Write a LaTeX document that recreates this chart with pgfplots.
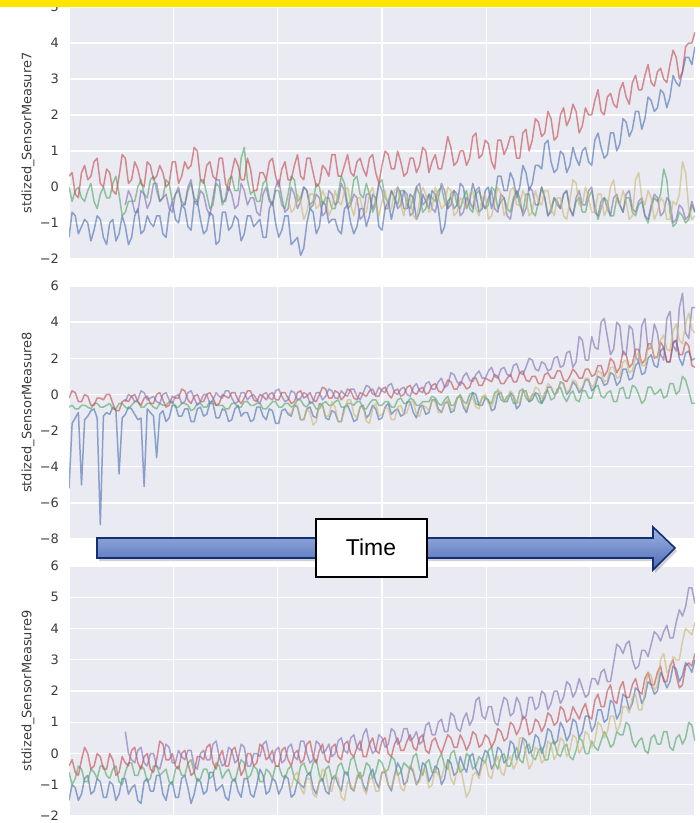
\documentclass[border=0pt]{standalone}
\usepackage{pgfplots}
\pgfplotsset{compat=1.18}
\usepackage{pgfplotstable}
\usepackage{fontspec}
\setmainfont{DejaVu Sans}
\newfontfamily\arial{Liberation Sans}
\definecolor{sbbg}{HTML}{EAEAF2}
\definecolor{sbblue}{HTML}{4C72B0}
\definecolor{sbgreen}{HTML}{55A868}
\definecolor{sbred}{HTML}{C44E52}
\definecolor{sbpurple}{HTML}{8172B2}
\definecolor{sbyellow}{HTML}{CCB974}
\definecolor{ticktxt}{HTML}{3C3C3C}
\definecolor{topbar}{HTML}{FFE600}
\definecolor{arrtop}{RGB}{160,180,228}
\definecolor{arrbot}{RGB}{78,108,180}
\definecolor{arrline}{RGB}{18,48,118}

\pgfplotstableread{
x b g r p y
0 -1.4 0.0 0.3 nan nan
1.5 -0.7 -0.4 0.4 nan nan
3 -0.8 -0.1 -0.2 nan nan
4.5 -1.3 0.0 -0.3 nan nan
6 -1.1 -0.3 0.4 nan nan
7.5 -0.9 -0.4 0.6 nan nan
9 -1.0 -0.1 0.2 nan nan
10.5 -1.5 0.1 0.3 nan nan
12 -1.2 -0.4 0.7 nan nan
13.5 -0.8 -0.6 0.8 nan nan
15 -0.9 -0.2 0.1 nan nan
16.5 -1.4 0.0 0.0 nan nan
18 -1.6 -0.3 0.5 nan nan
19.5 -1.0 -0.3 0.4 nan nan
21 -0.9 0.1 -0.1 nan nan
22.5 -1.5 0.3 -0.2 nan nan
24 -1.3 -0.2 0.3 nan nan
25.5 -0.8 -0.8 0.9 nan nan
27 -1.1 -0.7 0.8 -0.5 nan
28.5 -1.6 -0.4 0.1 -0.1 nan
30 -1.4 -0.4 0.2 -0.3 nan
31.5 -0.8 -0.4 0.7 -0.7 nan
33 -0.6 0.0 0.5 -0.7 nan
34.5 -1.3 0.2 0.1 -0.1 nan
36 -1.2 -0.2 0.0 -0.2 nan
37.5 -0.8 -0.3 0.7 -0.6 nan
39 -1.0 0.2 0.6 -0.4 nan
40.5 -1.1 0.3 0.2 0.1 nan
42 -0.8 -0.1 0.3 0.1 nan
43.5 -0.8 -0.4 0.6 -0.4 nan
45 -1.3 -0.3 0.4 -0.3 nan
46.5 -1.4 0.2 0.0 -0.2 nan
48 -0.7 0.1 0.1 -0.6 nan
49.5 -0.4 -0.4 0.7 -0.7 nan
51 -0.9 -0.2 0.7 -0.2 nan
52.5 -1.0 -0.1 0.1 0.0 nan
54 -0.5 -0.4 0.3 -0.5 nan
55.5 -0.6 -0.5 0.7 -0.5 nan
57 -1.1 -0.1 0.5 0.0 nan
58.5 -1.2 0.1 0.6 0.2 nan
60 -0.4 -0.3 1.1 -0.4 nan
61.5 -0.4 -0.4 1.0 -0.5 nan
63 -0.9 0.2 0.2 -0.1 nan
64.5 -1.3 0.2 0.1 -0.2 nan
66 -1.2 -0.2 0.6 -0.6 nan
67.5 -0.7 -0.6 0.7 -0.8 nan
69 -0.8 -0.5 0.3 -0.3 nan
70.5 -1.6 0.1 0.2 0.2 nan
72 -1.5 0.0 0.8 0.2 nan
73.5 -0.7 -0.5 0.8 -0.4 nan
75 -0.7 -0.3 0.1 -0.4 nan
76.5 -1.2 0.2 -0.1 0.0 nan
78 -1.1 0.3 0.4 -0.2 nan
79.5 -0.8 -0.1 0.8 -0.6 nan
81 -0.9 -0.1 0.6 -0.5 nan
82.5 -1.5 0.8 0.2 0.1 nan
84 -1.3 1.1 0.2 -0.1 nan
85.5 -0.8 0.2 0.8 -0.5 nan
87 -0.8 -0.2 0.5 -0.3 nan
88.5 -1.1 -0.1 -0.1 -0.3 nan
90 -1.0 -0.4 -0.1 -0.7 nan
91.5 -0.9 -0.4 0.4 -0.8 nan
93 -1.4 0.1 0.4 -0.2 nan
94.5 -1.4 0.2 0.2 0.0 nan
96 -0.6 -0.3 0.7 -0.4 nan
97.5 -0.4 -0.5 0.8 -0.5 nan
99 -1.0 -0.1 0.3 0.0 nan
100.5 -1.4 -0.1 0.0 0.2 nan
102 -1.2 -0.5 0.5 -0.3 nan
103.5 -0.8 -0.6 0.7 -0.7 nan
105 -0.8 -0.2 0.2 -0.6 -0.3
106.5 -1.6 0.3 0.2 0.0 -0.7
108 -1.5 0.2 0.6 -0.2 -0.6
109.5 -1.4 -0.4 0.9 -0.6 -0.2
111 -1.9 -0.3 0.3 -0.4 -0.4
112.5 -1.7 0.0 0.2 0.0 -0.9
114 -1.0 -0.1 0.8 -0.1 -0.7
115.5 -0.6 -0.5 0.8 -0.6 -0.2
117 -0.7 -0.4 0.4 -0.5 -0.2
118.5 -1.3 0.1 0.0 -0.2 -0.6
120 -1.1 0.0 0.1 -0.3 -0.5
121.5 -0.4 -0.5 0.6 -0.8 -0.1
123 -0.5 -0.3 0.5 -0.7 -0.3
124.5 -1.0 -0.3 0.3 -0.1 -0.8
126 -0.9 -0.6 0.9 -0.2 -0.6
127.5 -0.9 -0.6 0.9 -0.5 -0.1
129 -1.2 -0.2 0.3 -0.4 -0.4
130.5 -1.3 0.3 0.3 0.1 -0.5
132 -0.6 0.1 0.6 -0.1 -0.1
133.5 -0.5 -0.5 0.9 -0.6 0.0
135 -1.0 -0.4 0.4 -0.5 -0.5
136.5 -1.3 0.2 0.3 -0.2 -0.8
138 -1.1 0.3 0.7 -0.3 -0.3
139.5 -0.6 -0.2 0.8 -0.9 -0.3
141 -0.6 -0.3 0.5 -0.8 -0.7
142.5 -1.1 0.1 0.3 -0.2 -0.7
144 -0.8 -0.2 0.8 -0.2 -0.2
145.5 -0.2 -0.7 0.9 -0.6 0.0
147 -0.3 -0.5 0.4 -0.4 -0.5
148.5 -1.1 0.1 0.1 0.1 -0.8
150 -1.2 0.2 0.6 -0.1 -0.4
151.5 -0.6 -0.3 1.0 -0.6 -0.1
153 -0.4 -0.4 0.9 -0.6 -0.6
154.5 -0.9 -0.1 0.5 -0.1 -0.6
156 -0.5 -0.3 0.5 -0.3 -0.1
157.5 0.0 -0.5 1.0 -0.6 0.0
159 -0.2 -0.1 0.7 -0.5 -0.5
160.5 -0.6 -0.1 0.3 -0.1 -0.8
162 -0.6 -0.5 0.4 -0.2 -0.3
163.5 -0.2 -0.6 0.8 -0.8 -0.3
165 -0.3 -0.3 0.8 -0.7 -0.8
166.5 -0.9 0.0 0.4 0.0 -0.9
168 -0.7 -0.2 0.6 0.1 -0.4
169.5 -0.2 -0.7 1.1 -0.5 0.0
171 -0.4 -0.6 1.0 -0.4 -0.2
172.5 -0.6 -0.2 0.4 -0.2 -0.7
174 -0.1 -0.3 0.7 -0.6 -0.6
175.5 -0.2 -0.4 0.9 -0.7 0.0
177 -0.6 -0.1 0.5 -0.3 -0.3
178.5 -1.3 0.0 0.5 0.1 -0.6
180 -1.1 -0.4 0.9 -0.1 -0.5
181.5 -0.4 -0.6 1.4 -0.6 0.0
183 -0.3 -0.2 1.1 -0.5 -0.1
184.5 -0.6 -0.1 0.6 -0.1 -0.8
186 -0.5 -0.5 0.7 -0.2 -0.7
187.5 0.1 -0.6 1.0 -0.8 -0.3
189 0.0 -0.3 1.0 -0.7 -0.4
190.5 -0.6 -0.1 0.6 -0.3 -0.6
192 -0.4 -0.6 0.8 -0.4 -0.2
193.5 0.1 -0.7 1.4 -0.6 -0.1
195 -0.2 -0.2 1.5 -0.1 -0.6
196.5 -0.7 -0.1 0.8 0.0 -0.8
198 -0.6 -0.4 0.9 -0.5 -0.3
199.5 -0.1 -0.6 1.3 -0.6 -0.2
201 0.0 -0.5 1.2 -0.3 -0.9
202.5 -0.6 0.0 0.7 -0.1 -0.8
204 -0.3 -0.1 0.5 -0.6 -0.4
205.5 0.3 -0.6 1.3 -0.7 0.0
207 0.3 -0.4 1.3 -0.2 -0.2
208.5 -0.1 -0.3 0.9 -0.3 -0.8
210 -0.1 -0.6 1.1 -0.8 -0.6
211.5 0.4 -0.7 1.4 -0.9 -0.1
213 0.2 -0.3 1.4 -0.4 0.0
214.5 -0.3 -0.1 0.8 -0.1 -0.5
216 0.0 -0.5 0.8 -0.3 -0.5
217.5 0.6 -0.7 1.5 -0.8 -0.1
219 0.4 -0.2 1.6 -0.6 -0.3
220.5 -0.1 -0.2 1.0 0.0 -0.8
222 0.1 -0.7 1.3 -0.1 -0.7
223.5 0.6 -0.8 1.9 -0.5 -0.1
225 0.6 -0.4 1.8 -0.5 -0.4
226.5 0.5 0.0 1.4 0.0 -0.5
228 1.2 -0.3 1.5 -0.3 -0.1
229.5 1.3 -0.8 2.1 -0.8 -0.1
231 0.7 -0.6 1.9 -0.7 -0.6
232.5 0.4 -0.3 1.3 -0.3 -0.8
234 0.5 -0.5 1.4 -0.4 -0.3
235.5 1.0 -0.6 2.0 -0.6 -0.3
237 0.9 -0.2 2.2 -0.2 -0.8
238.5 0.4 -0.1 1.7 -0.1 -0.9
240 0.6 -0.6 1.9 -0.6 -0.4
241.5 1.1 -0.8 2.3 -0.8 0.2
243 0.8 -0.4 2.1 -0.3 0.1
244.5 0.6 -0.3 1.5 -0.1 -0.5
246 1.0 -0.7 1.7 -0.5 -0.5
247.5 1.1 -0.7 2.2 -0.5 0.0
249 0.7 -0.3 2.0 -0.1 -0.3
250.5 0.6 -0.1 2.0 0.0 -0.7
252 1.3 -0.5 2.4 -0.7 -0.7
253.5 1.5 -0.9 2.7 -0.8 -0.2
255 1.1 -0.6 2.1 -0.4 -0.2
256.5 0.8 -0.3 2.0 -0.3 -0.8
258 0.9 -0.4 2.5 -0.6 -0.6
259.5 1.5 -0.8 2.6 -0.8 0.0
261 1.5 -0.8 2.3 -0.3 0.2
262.5 1.0 -0.3 2.2 -0.2 -0.4
264 1.2 -0.5 2.7 -0.5 -0.5
265.5 1.9 -0.7 2.9 -0.7 -0.1
267 1.8 -0.3 2.5 -0.2 -0.4
268.5 1.4 -0.3 2.3 -0.1 -0.9
270 1.6 -0.7 2.9 -0.6 -0.8
271.5 2.1 -0.8 3.1 -0.7 0.2
273 2.1 -0.5 2.7 -0.4 0.4
274.5 1.6 -0.4 2.7 -0.3 -0.3
276 1.9 -0.8 3.1 -0.8 -0.5
277.5 2.5 -1.0 3.4 -0.9 -0.1
279 2.4 -0.6 2.9 -0.5 -0.3
280.5 2.1 -0.3 2.8 -0.2 -0.9
282 2.2 -0.4 3.2 -0.3 -0.7
283.5 2.7 -0.2 3.3 -0.8 -0.3
285 2.6 0.5 3.0 -0.7 -0.4
286.5 2.2 0.2 2.9 -0.3 -0.9
288 2.5 -0.7 3.4 -0.4 -0.9
289.5 3.1 -1.1 3.8 -1.0 -0.4
291 2.9 -1.0 3.6 -0.9 -0.5
292.5 2.8 -0.7 3.0 -0.5 -0.2
294 3.2 -0.8 3.2 -0.6 0.7
295.5 3.6 -1.0 3.9 -0.9 0.4
297 3.6 -0.9 4.0 -0.8 -0.6
298.5 3.4 -0.5 4.0 -0.4 -0.9
300 3.9 -0.7 4.3 -0.7 -0.8
}\tabA

\pgfplotstableread{
x b g r p y
0 -5.2 -0.7 -0.2 nan nan
1.5 -1.6 -0.6 0.2 nan nan
3 -1.3 -0.8 0.1 nan nan
4.5 -1.0 -0.8 -0.4 nan nan
6 -5.0 -0.6 -0.4 nan nan
7.5 -1.4 -0.6 0.0 nan nan
9 -1.2 -0.7 -0.1 nan nan
10.5 -0.9 -0.8 -0.6 nan nan
12 -0.8 -0.5 -0.6 nan nan
13.5 -1.3 -0.5 -0.2 nan nan
15 -7.2 -0.7 -0.2 nan nan
16.5 -1.2 -0.7 -0.3 nan nan
18 -1.0 -0.6 0.0 nan nan
19.5 -1.1 -0.5 0.0 nan nan
21 -0.7 -0.8 -0.5 nan nan
22.5 -0.9 -0.8 -0.9 nan nan
24 -4.4 -0.5 -0.9 nan nan
25.5 -1.3 -0.5 -0.4 nan nan
27 -1.1 -0.7 -0.3 -0.4 nan
28.5 -0.7 -0.8 -0.4 0.0 nan
30 -0.8 -0.6 -0.1 -0.1 nan
31.5 -1.1 -0.4 0.0 -0.4 nan
33 -1.4 -0.4 -0.4 -0.3 nan
34.5 -1.3 -0.7 -0.6 0.2 nan
36 -5.1 -0.7 -0.2 0.1 nan
37.5 -0.8 -0.5 -0.1 -0.3 nan
39 -1.0 -0.5 -0.5 -0.2 nan
40.5 -1.2 -0.7 -0.5 -0.1 nan
42 -3.5 -0.8 0.0 -0.4 nan
43.5 -1.1 -0.5 0.1 -0.5 nan
45 -0.9 -0.6 -0.3 0.0 nan
46.5 -1.5 -0.6 -0.7 0.1 nan
48 -1.3 -0.4 -0.6 -0.3 nan
49.5 -0.6 -0.4 -0.1 -0.5 nan
51 -0.6 -0.7 -0.2 -0.1 nan
52.5 -1.2 -0.7 -0.2 0.0 nan
54 -1.2 -0.5 0.3 -0.5 nan
55.5 -0.8 -0.5 0.2 -0.4 nan
57 -0.8 -0.6 -0.3 0.1 nan
58.5 -1.5 -0.9 -0.5 0.2 nan
60 -1.5 -0.8 -0.1 -0.2 nan
61.5 -0.8 -0.5 0.0 -0.6 nan
63 -0.7 -0.5 -0.4 -0.4 nan
64.5 -1.2 -0.7 -0.4 0.0 nan
66 -1.1 -0.7 0.0 0.0 nan
67.5 -0.5 -0.4 0.1 -0.5 nan
69 -0.5 -0.4 -0.2 -0.3 nan
70.5 -1.3 -0.6 -0.6 0.1 nan
72 -1.3 -0.6 -0.5 -0.1 nan
73.5 -0.8 -0.6 0.0 -0.2 nan
75 -0.9 -0.8 -0.1 0.2 nan
76.5 -1.5 -0.8 -0.2 0.2 nan
78 -1.4 -0.5 0.1 -0.2 nan
79.5 -0.8 -0.5 0.1 -0.5 nan
81 -0.6 -0.7 -0.3 -0.4 nan
82.5 -1.2 -0.7 -0.5 0.1 nan
84 -1.0 -0.4 -0.2 0.1 nan
85.5 -1.0 -0.4 0.2 -0.3 nan
87 -1.5 -0.6 0.2 -0.1 nan
88.5 -1.4 -0.6 -0.3 0.0 nan
90 -0.7 -0.5 -0.4 -0.3 nan
91.5 -0.7 -0.5 0.0 -0.5 nan
93 -1.2 -0.8 -0.1 0.0 nan
94.5 -1.4 -0.8 -0.3 0.1 nan
96 -0.8 -0.6 0.0 -0.2 nan
97.5 -0.9 -0.4 0.1 -0.3 nan
99 -1.6 -0.4 -0.3 0.2 nan
100.5 -1.6 -0.7 -0.3 0.3 nan
102 -0.9 -0.7 0.1 -0.1 nan
103.5 -0.8 -0.5 0.1 -0.4 nan
105 -1.1 -0.5 -0.2 -0.3 -1.0
106.5 -1.2 -0.7 -0.5 0.2 -1.1
108 -0.6 -0.6 -0.4 0.1 -0.5
109.5 -0.7 -0.3 0.1 -0.3 -0.6
111 -1.4 -0.3 0.2 -0.2 -1.4
112.5 -1.4 -0.6 -0.2 0.1 -1.4
114 -0.8 -0.7 -0.1 0.0 -0.8
115.5 -0.7 -0.4 0.1 -0.5 -1.0
117 -1.2 -0.5 -0.3 -0.4 -1.7
118.5 -1.3 -0.8 -0.4 0.1 -1.5
120 -0.5 -0.8 0.0 0.1 -0.6
121.5 -0.6 -0.5 0.4 -0.3 -0.6
123 -1.3 -0.4 0.3 -0.1 -1.2
124.5 -1.4 -0.6 -0.2 0.3 -1.2
126 -0.9 -0.6 -0.2 0.2 -0.4
127.5 -1.0 -0.4 0.2 -0.2 -0.7
129 -1.5 -0.3 0.1 -0.2 -1.5
130.5 -1.5 -0.7 -0.3 0.2 -1.5
132 -0.7 -0.7 -0.1 0.0 -0.9
133.5 -0.6 -0.5 0.3 -0.1 -0.3
135 -1.0 -0.5 0.2 0.3 -0.3
136.5 -1.5 -0.6 -0.2 0.3 -1.1
138 -1.4 -0.4 -0.3 -0.1 -1.3
139.5 -0.7 -0.4 0.1 -0.3 -0.7
141 -0.6 -0.8 0.0 0.1 -0.7
142.5 -1.3 -0.8 -0.1 0.5 -1.5
144 -1.1 -0.5 0.2 0.4 -1.6
145.5 -0.6 -0.3 0.3 0.0 -0.8
147 -0.8 -0.3 -0.1 0.0 -0.5
148.5 -1.4 -0.6 -0.1 0.4 -1.2
150 -1.3 -0.6 0.3 0.2 -1.1
151.5 -0.7 -0.4 0.4 0.1 -0.7
153 -0.5 -0.4 0.0 0.5 -0.8
154.5 -1.1 -0.7 -0.2 0.6 -1.4
156 -0.9 -0.7 0.2 0.1 -1.4
157.5 -0.8 -0.3 0.3 0.0 -0.7
159 -1.2 -0.2 -0.1 0.3 -0.6
160.5 -1.1 -0.5 0.0 0.4 -1.1
162 -0.4 -0.5 0.4 0.0 -1.0
163.5 -0.4 -0.2 0.5 -0.1 -0.4
165 -1.0 -0.3 0.1 0.4 -0.4
166.5 -1.3 -0.6 0.0 0.6 -1.1
168 -0.7 -0.6 0.3 0.2 -1.2
169.5 -0.6 -0.4 0.4 0.1 -0.6
171 -1.1 -0.4 0.0 0.6 -0.7
172.5 -1.0 -0.4 0.1 0.7 -0.9
174 -0.3 -0.1 0.5 0.3 -0.3
175.5 -0.3 -0.2 0.6 0.3 -0.4
177 -0.8 -0.5 0.2 0.7 -1.0
178.5 -1.0 -0.6 0.1 0.9 -1.0
180 -0.5 -0.3 0.4 0.4 -0.5
181.5 -0.4 -0.1 0.8 0.5 -0.3
183 -1.0 -0.6 0.7 1.2 -0.8
184.5 -0.9 -0.6 0.3 1.1 -0.8
186 -0.2 -0.2 0.3 0.7 -0.2
187.5 -0.1 0.0 0.7 0.5 -0.1
189 -0.7 -0.4 0.6 1.0 -0.6
190.5 -1.0 -0.5 0.3 1.2 -0.8
192 -0.4 0.0 0.4 0.8 -0.3
193.5 0.1 0.1 0.9 0.7 -0.2
195 0.0 -0.5 0.9 1.1 -0.7
196.5 -0.6 -0.6 0.5 1.3 -0.8
198 -0.6 -0.2 0.5 0.9 -0.1
199.5 -0.2 -0.1 0.9 0.9 0.0
201 -0.3 -0.4 0.8 1.3 -0.5
202.5 -0.9 -0.5 0.7 1.5 -0.7
204 -0.8 0.1 1.1 1.0 -0.2
205.5 0.0 0.2 1.0 0.9 0.3
207 0.1 -0.3 0.6 1.4 0.1
208.5 -0.4 -0.4 0.6 1.5 -0.4
210 -0.4 -0.1 0.9 1.1 -0.3
211.5 0.1 0.0 1.1 1.0 0.2
213 -0.1 -0.5 0.7 1.6 0.0
214.5 -0.8 -0.5 0.7 1.7 -0.5
216 -0.6 0.2 1.2 1.2 -0.4
217.5 0.2 0.3 1.3 1.1 0.2
219 0.2 -0.2 0.8 1.5 0.2
220.5 -0.4 -0.4 0.7 2.0 -0.3
222 -0.3 0.0 1.0 1.9 -0.1
223.5 0.1 0.0 1.0 1.4 0.4
225 0.0 -0.4 0.6 1.3 0.3
226.5 -0.5 -0.5 0.6 1.8 -0.2
228 -0.2 0.1 1.1 1.7 0.0
229.5 0.4 0.2 1.2 1.3 0.6
231 0.4 -0.3 0.9 1.4 0.4
232.5 0.0 -0.2 0.9 2.0 0.0
234 0.1 0.3 1.3 2.1 0.1
235.5 0.7 0.4 1.3 1.5 0.7
237 0.6 -0.1 0.8 1.6 0.6
238.5 0.0 -0.4 0.7 2.3 0.1
240 0.2 0.0 1.0 2.4 0.3
241.5 0.7 0.2 1.4 1.5 0.8
243 0.5 -0.3 1.2 1.8 0.7
244.5 0.1 -0.4 0.9 3.2 0.2
246 0.3 0.2 0.9 3.0 0.4
247.5 0.8 0.2 1.4 1.9 0.9
249 0.8 -0.2 1.4 1.9 0.9
250.5 0.2 -0.2 1.0 3.2 0.4
252 0.4 0.4 1.1 2.6 0.6
253.5 1.0 0.5 1.6 2.5 1.3
255 0.9 -0.1 1.6 4.0 1.2
256.5 0.5 -0.2 1.0 4.2 0.7
258 0.6 0.1 1.3 3.2 0.8
259.5 1.2 0.2 2.0 2.2 1.5
261 1.1 -0.4 1.8 2.5 1.5
262.5 0.5 -0.4 1.2 4.0 0.9
264 0.7 0.3 1.5 3.8 1.0
265.5 1.4 0.4 2.4 2.2 1.8
267 1.4 -0.2 2.2 2.2 1.9
268.5 0.8 -0.2 1.5 3.8 1.2
270 0.9 0.5 1.7 3.6 1.3
271.5 1.6 0.4 2.5 2.1 2.1
273 1.8 0.0 2.5 1.8 2.3
274.5 1.1 -0.5 1.7 3.8 1.6
276 1.2 -0.3 1.9 4.2 1.6
277.5 2.0 0.4 2.8 2.5 2.6
279 2.2 0.4 2.8 2.6 2.8
280.5 1.6 0.0 2.0 3.9 2.1
282 1.5 0.1 2.1 3.4 2.0
283.5 2.4 0.3 2.9 2.2 3.0
285 2.6 -0.2 2.6 1.9 3.3
286.5 1.8 -0.1 1.8 4.2 2.5
288 1.8 0.6 1.8 4.6 2.4
289.5 2.8 0.6 2.9 2.7 3.5
291 3.0 0.0 3.0 2.4 3.9
292.5 2.0 0.2 2.2 4.8 3.0
294 1.6 1.0 2.2 5.6 2.8
295.5 2.3 0.8 2.9 3.4 3.9
297 2.4 0.2 2.7 3.1 4.5
298.5 1.9 -0.5 1.6 4.8 3.6
300 2.0 -0.5 1.5 4.8 3.4
}\tabB

\pgfplotstableread{
x b g r p y
0 -1.5 -0.6 -0.4 nan nan
1.5 -1.0 -1.0 -0.2 nan nan
3 -1.1 -0.8 -0.6 nan nan
4.5 -1.5 -0.4 -0.7 nan nan
6 -1.3 -0.5 -0.2 nan nan
7.5 -0.8 -0.9 0.2 nan nan
9 -0.7 -0.9 0.0 nan nan
10.5 -1.3 -0.5 -0.5 nan nan
12 -1.2 -0.6 -0.4 nan nan
13.5 -0.8 -0.8 0.0 nan nan
15 -0.9 -0.4 -0.1 nan nan
16.5 -1.4 -0.4 -0.5 nan nan
18 -1.4 -0.7 -0.5 nan nan
19.5 -0.9 -0.8 0.0 nan nan
21 -1.0 -0.5 -0.2 nan nan
22.5 -1.5 -0.4 -0.7 nan nan
24 -1.3 -0.9 -0.6 nan nan
25.5 -0.8 -1.0 -0.1 nan nan
27 -0.8 -0.6 -0.3 0.7 nan
28.5 -1.3 -0.3 -0.4 0.0 nan
30 -1.1 -0.3 0.1 -0.2 nan
31.5 -1.0 -0.7 0.2 -0.3 nan
33 -1.5 -0.7 -0.3 0.1 nan
34.5 -1.6 -0.4 -0.5 0.2 nan
36 -0.9 -0.5 -0.1 -0.3 nan
37.5 -0.8 -0.9 0.0 -0.4 nan
39 -1.2 -0.8 -0.5 0.0 nan
40.5 -1.2 -0.4 -0.6 0.0 nan
42 -0.7 -0.4 -0.2 -0.4 nan
43.5 -0.7 -0.7 0.4 -0.5 nan
45 -1.3 -0.6 0.3 -0.1 nan
46.5 -1.5 -0.5 -0.2 0.3 nan
48 -1.0 -0.9 -0.2 0.2 nan
49.5 -0.9 -1.0 0.0 -0.3 nan
51 -1.4 -0.5 -0.4 -0.3 nan
52.5 -1.4 -0.4 -0.5 0.1 nan
54 -0.8 -0.7 0.0 -0.1 nan
55.5 -0.7 -0.7 0.1 -0.2 nan
57 -1.1 -0.3 -0.3 0.1 nan
58.5 -1.6 -0.2 -0.7 0.1 nan
60 -1.3 -0.6 -0.6 -0.4 nan
61.5 -0.8 -0.9 -0.1 -0.5 nan
63 -0.9 -0.8 -0.1 0.0 nan
64.5 -1.3 -0.5 -0.2 0.1 nan
66 -1.2 -0.5 0.2 -0.2 nan
67.5 -0.6 -0.8 0.3 -0.2 nan
69 -0.6 -0.7 -0.3 0.3 nan
70.5 -1.2 -0.3 -0.5 0.4 nan
72 -1.1 -0.4 -0.1 -0.1 nan
73.5 -1.0 -0.8 0.1 -0.4 nan
75 -1.4 -0.6 -0.4 -0.3 nan
76.5 -1.5 -0.5 -0.4 0.2 nan
78 -0.9 -0.8 0.1 0.1 nan
79.5 -0.8 -0.9 0.2 -0.3 nan
81 -1.2 -0.5 -0.2 -0.2 nan
82.5 -1.4 -0.2 -0.7 0.3 nan
84 -0.8 -0.3 -0.5 0.2 nan
85.5 -0.8 -0.8 0.0 -0.4 nan
87 -1.3 -0.7 0.0 -0.4 nan
88.5 -1.4 -0.4 -0.4 0.0 nan
90 -1.0 -0.5 -0.3 0.0 nan
91.5 -0.5 -0.9 0.3 -0.1 nan
93 -0.7 -0.9 0.2 0.3 nan
94.5 -1.3 -0.5 -0.2 0.4 nan
96 -1.2 -0.6 -0.1 -0.1 nan
97.5 -0.8 -0.8 0.1 -0.3 nan
99 -0.9 -0.4 -0.4 0.1 nan
100.5 -1.3 -0.4 -0.4 0.2 nan
102 -1.1 -0.7 0.1 -0.3 nan
103.5 -0.7 -0.8 0.2 -0.2 nan
105 -0.8 -0.5 -0.2 0.2 -1.0
106.5 -1.4 -0.4 -0.4 0.3 -1.1
108 -1.3 -0.8 0.0 -0.1 -0.7
109.5 -0.9 -0.9 0.1 -0.2 -0.6
111 -1.0 -0.4 -0.3 0.4 -1.1
112.5 -1.1 -0.3 -0.2 0.4 -1.3
114 -0.7 -0.6 0.3 0.0 -0.8
115.5 -0.6 -0.7 0.4 -0.3 -0.8
117 -1.1 -0.3 -0.1 -0.2 -1.3
118.5 -1.3 -0.2 -0.3 0.4 -1.4
120 -0.9 -0.7 0.1 0.3 -0.9
121.5 -0.8 -0.9 0.3 0.0 -0.5
123 -1.2 -0.5 -0.2 0.1 -0.6
124.5 -1.3 -0.4 -0.3 0.3 -1.2
126 -0.8 -0.8 0.2 -0.1 -1.2
127.5 -0.7 -0.8 0.3 0.0 -0.7
129 -1.0 -0.4 -0.1 0.4 -0.8
130.5 -1.2 -0.3 -0.2 0.5 -1.4
132 -0.6 -0.6 0.3 0.1 -1.5
133.5 -0.6 -0.7 0.4 0.0 -0.9
135 -1.1 -0.2 0.0 0.5 -1.0
136.5 -1.2 -0.1 -0.1 0.6 -1.2
138 -0.8 -0.5 0.2 0.2 -0.7
139.5 -0.6 -0.8 0.4 0.1 -0.6
141 -1.0 -0.7 -0.1 0.6 -1.1
142.5 -1.2 -0.3 -0.1 0.8 -1.3
144 -0.7 -0.4 0.3 0.3 -0.8
145.5 -0.5 -0.8 0.5 0.0 -0.8
147 -0.9 -0.6 0.1 0.1 -1.2
148.5 -1.1 -0.2 0.0 0.6 -1.2
150 -0.6 -0.3 0.4 0.5 -0.6
151.5 -0.6 -0.6 0.5 0.2 -0.5
153 -1.0 -0.5 0.0 0.3 -1.0
154.5 -1.2 -0.1 -0.1 0.8 -1.1
156 -0.7 -0.2 0.3 0.7 -0.7
157.5 -0.3 -0.7 0.5 0.3 -0.6
159 -0.5 -0.6 0.1 0.4 -1.1
160.5 -1.0 -0.3 0.1 0.8 -1.2
162 -0.9 -0.4 0.4 0.8 -0.8
163.5 -0.4 -0.5 0.6 0.4 -0.4
165 -0.6 -0.1 0.2 0.5 -0.5
166.5 -1.0 0.0 0.1 0.7 -1.0
168 -0.8 -0.5 0.5 0.3 -0.9
169.5 -0.3 -0.7 0.6 0.4 -0.5
171 -0.4 -0.3 0.1 0.9 -0.6
172.5 -0.9 -0.2 0.0 1.0 -1.1
174 -0.7 -0.6 0.4 0.6 -1.0
175.5 -0.4 -0.6 0.5 0.6 -0.5
177 -0.5 -0.2 0.2 1.0 -0.7
178.5 -1.0 0.0 0.0 1.1 -0.8
180 -0.8 -0.4 0.3 0.7 -0.4
181.5 -0.2 -0.5 0.6 0.7 -0.3
183 -0.3 0.0 0.5 1.3 -0.8
184.5 -0.7 0.1 0.2 1.2 -1.0
186 -0.6 -0.3 0.2 0.8 -0.5
187.5 -0.1 -0.6 0.6 0.7 -0.4
189 -0.4 -0.5 0.4 1.1 -0.9
190.5 -0.6 0.0 0.1 1.3 -1.4
192 -0.1 -0.1 0.3 0.9 -1.2
193.5 0.0 -0.5 0.7 1.1 -0.7
195 -0.5 -0.4 0.6 1.7 -0.6
196.5 -0.7 -0.1 0.2 1.8 -0.8
198 -0.2 -0.2 0.3 1.2 -0.4
199.5 0.1 -0.3 0.6 1.1 -0.2
201 0.0 0.1 0.5 1.5 -0.7
202.5 -0.5 0.2 0.2 1.5 -0.8
204 -0.3 -0.3 0.4 1.0 -0.3
205.5 0.2 -0.5 0.8 0.9 -0.1
207 0.1 -0.1 0.7 1.4 -0.6
208.5 -0.3 0.0 0.4 1.8 -0.7
210 -0.2 -0.4 0.5 1.7 -0.2
211.5 0.4 -0.4 1.0 1.2 -0.1
213 0.3 0.0 0.9 1.3 -0.5
214.5 -0.2 0.2 0.6 1.8 -0.3
216 0.0 -0.2 0.8 1.6 0.5
217.5 0.5 -0.3 1.2 1.1 0.5
219 0.4 0.2 1.1 1.2 0.0
220.5 0.0 0.3 0.6 1.8 -0.5
222 0.1 -0.1 0.7 1.8 -0.3
223.5 0.6 -0.2 1.1 1.4 0.2
225 0.5 0.1 1.0 1.5 0.1
226.5 0.0 0.2 0.7 2.0 -0.3
228 0.3 -0.2 0.9 1.9 -0.2
229.5 0.8 -0.2 1.3 1.4 0.4
231 0.7 0.3 1.2 1.6 0.3
232.5 0.3 0.4 0.9 2.0 -0.2
234 0.4 0.0 1.0 2.0 0.0
235.5 1.0 -0.1 1.5 1.6 0.5
237 0.8 0.2 1.4 1.8 0.4
238.5 0.4 0.3 1.0 2.3 -0.1
240 0.6 -0.1 1.1 2.2 0.1
241.5 1.1 -0.2 1.5 1.8 0.6
243 1.0 0.1 1.3 2.0 0.5
244.5 0.5 0.5 1.1 2.4 0.0
246 0.7 0.4 1.4 2.1 0.2
247.5 1.2 0.0 1.6 1.8 0.7
249 1.2 0.0 1.2 1.9 0.6
250.5 0.7 0.4 1.1 2.4 0.2
252 0.9 0.2 1.7 2.4 0.4
253.5 1.4 0.1 1.9 2.2 1.0
255 1.4 0.4 1.5 2.6 0.9
256.5 1.0 0.7 1.5 2.7 0.5
258 1.1 0.5 2.0 2.3 0.7
259.5 1.7 0.2 2.2 2.3 1.2
261 1.6 0.3 1.7 2.9 1.2
262.5 1.1 0.7 1.6 3.5 0.7
264 1.3 0.6 2.1 3.4 0.9
265.5 1.9 0.6 2.3 3.2 1.5
267 1.8 1.0 1.8 3.5 1.5
268.5 1.4 0.9 1.8 3.6 1.3
270 1.6 0.4 2.2 3.0 1.8
271.5 2.1 0.2 2.4 2.7 1.9
273 2.0 0.4 2.0 2.8 1.4
274.5 1.6 0.5 1.9 3.3 1.4
276 1.8 0.1 2.4 3.3 2.0
277.5 2.3 0.0 2.6 3.1 2.6
279 2.2 0.5 2.2 3.5 2.5
280.5 1.9 0.6 2.2 3.9 2.0
282 2.0 0.3 2.6 3.8 2.2
283.5 2.6 0.3 2.8 3.6 3.0
285 2.4 0.7 2.3 3.9 3.2
286.5 2.1 0.7 2.3 4.1 2.6
288 2.3 0.2 2.8 3.7 2.7
289.5 2.8 0.1 3.0 3.7 3.1
291 2.7 0.5 2.5 4.2 3.0
292.5 2.3 0.6 2.1 4.6 3.0
294 2.5 0.3 2.2 4.4 3.6
295.5 2.9 0.5 2.8 4.7 4.0
297 2.8 1.0 2.9 5.3 3.9
298.5 2.6 0.9 2.8 5.3 3.8
300 3.0 0.4 3.2 4.8 4.2
}\tabC

\pgfplotsset{
  panel/.style={
    scale only axis, width=626bp,
    anchor=north west,
    xmin=0, xmax=300, xtick={0,50,...,300}, xticklabels={},
    axis background/.style={fill=sbbg},
    grid=major, major grid style={draw=white, line width=1.3bp},
    axis line style={draw=none},
    major tick length=0pt,
    yticklabel style={font=\fontsize{13}{15}\selectfont, text=ticktxt, xshift=-6.5bp},
    every axis y label/.style={at={(axis description cs:-0.0655,0.5)}, rotate=90, anchor=center,
      font=\fontsize{13}{15}\selectfont, text=ticktxt},
    every axis plot/.append style={line width=1.5bp, opacity=0.62, line join=round, no markers},
    unbounded coords=discard,
  },
}

\begin{document}
\begin{tikzpicture}
\useasboundingbox (0,0) rectangle (700bp,-823bp);
\fill[white] (0,0) rectangle (700bp,-823bp);

\begin{axis}[panel, at={(69bp,-7bp)}, height=252bp,
  ymin=-2, ymax=5, ytick={-2,-1,...,5},
  yticklabels={−2,−1,0,1,2,3,4,5},
  ylabel={stdized\_SensorMeasure7}]
\addplot[sbblue] table[x=x,y=b]{\tabA};
\addplot[sbgreen] table[x=x,y=g]{\tabA};
\addplot[sbred] table[x=x,y=r]{\tabA};
\addplot[sbpurple] table[x=x,y=p]{\tabA};
\addplot[sbyellow] table[x=x,y=y]{\tabA};
\end{axis}

\begin{axis}[panel, at={(69bp,-286bp)}, height=253bp,
  ymin=-8, ymax=6, ytick={-8,-6,...,6},
  yticklabels={−8,−6,−4,−2,0,2,4,6},
  ylabel={stdized\_SensorMeasure8}]
\addplot[sbblue] table[x=x,y=b]{\tabB};
\addplot[sbgreen] table[x=x,y=g]{\tabB};
\addplot[sbred] table[x=x,y=r]{\tabB};
\addplot[sbpurple] table[x=x,y=p]{\tabB};
\addplot[sbyellow] table[x=x,y=y]{\tabB};
\end{axis}

\begin{axis}[panel, at={(69bp,-566bp)}, height=250bp,
  ymin=-2, ymax=6, ytick={-2,-1,...,6},
  yticklabels={−2,−1,0,1,2,3,4,5,6},
  ylabel={stdized\_SensorMeasure9}]
\addplot[sbblue] table[x=x,y=b]{\tabC};
\addplot[sbgreen] table[x=x,y=g]{\tabC};
\addplot[sbred] table[x=x,y=r]{\tabC};
\addplot[sbpurple] table[x=x,y=p]{\tabC};
\addplot[sbyellow] table[x=x,y=y]{\tabC};
\end{axis}

% top highlight bar
\fill[topbar] (0,0) rectangle (700bp,-7bp);

% time arrow with shadow
\fill[black, opacity=0.18] (99bp,-541bp) -- (655bp,-541bp) -- (655bp,-531bp) -- (677bp,-551bp) -- (655bp,-573bp) -- (655bp,-561bp) -- (99bp,-561bp) -- cycle;
\draw[draw=arrline, line width=1.6bp, top color=arrtop, bottom color=arrbot, line join=miter]
  (97bp,-538bp) -- (653bp,-538bp) -- (653bp,-527bp) -- (675bp,-548bp) -- (653bp,-570bp) -- (653bp,-558bp) -- (97bp,-558bp) -- cycle;
\node[draw=black, line width=2bp, fill=white, minimum width=111bp, minimum height=58bp, inner sep=0pt,
  font=\arial\fontsize{23}{27}\selectfont, text=black] at (371bp,-547.5bp) {Time};
\end{tikzpicture}
\end{document}
